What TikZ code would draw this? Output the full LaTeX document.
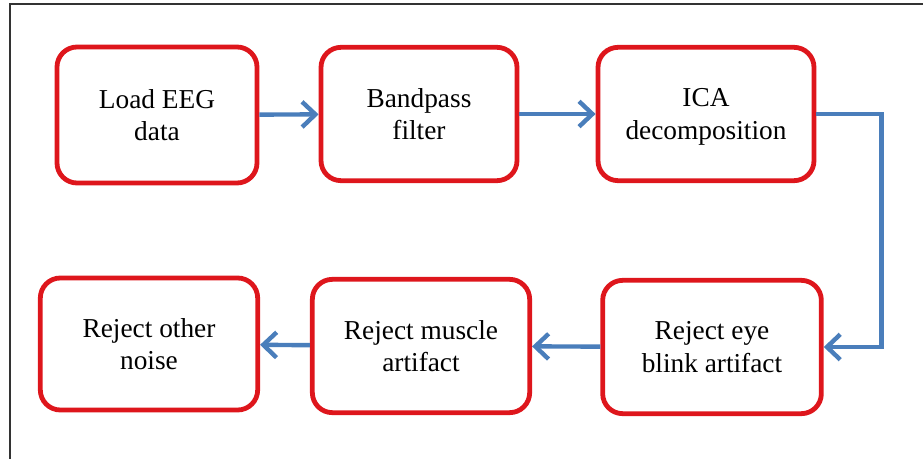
\documentclass[tikz,border=0pt]{standalone}
\usepackage{fontspec}
\setmainfont{Liberation Serif}
\usetikzlibrary{arrows.meta, positioning}

\definecolor{boxred}{RGB}{222,22,28}
\definecolor{arrblue}{RGB}{74,126,187}

\begin{document}
\begin{tikzpicture}[
    x=0.75pt, y=-0.75pt,
    box/.style={draw=boxred, line width=3.6pt, rounded corners=15pt, fill=white, align=center,
                inner sep=0pt, text depth=-2pt, font=\fontsize{20.5}{24.5}\selectfont},
    arr/.style={draw=arrblue, line width=3.3pt, -{Straight Barb[length=10pt, width=19pt]}},
  ]
    \useasboundingbox (0,0) rectangle (923,459);
    % frame
    \draw[line width=1.1pt, black!80] (10,459) -- (10,4) -- (923,4);

    % top row
    \node[box, minimum width=150pt, minimum height=102pt] (load) at (157,115) {Load EEG\\data};
    \node[box, minimum width=147pt, minimum height=100pt] (band) at (419,114) {Bandpass\\filter};
    \node[box, minimum width=162pt, minimum height=100pt] (ica)  at (706,114) {ICA\\decomposition};
    % bottom row
    \node[box, minimum width=164pt, minimum height=100pt] (eye)    at (712,347) {Reject eye\\blink artifact};
    \node[box, minimum width=163pt, minimum height=100pt] (muscle) at (421,346) {Reject muscle\\artifact};
    \node[box, minimum width=163pt, minimum height=99pt]  (other)  at (149,344) {Reject other\\noise};

    \draw[arr] (load) -- (band);
    \draw[arr] (band) -- (ica);
    \draw[arr] (ica.east) -- ++(65,0) |- (eye.east);
    \draw[arr] (eye) -- (muscle);
    \draw[arr] (muscle) -- (other);
  \end{tikzpicture}
\end{document}
